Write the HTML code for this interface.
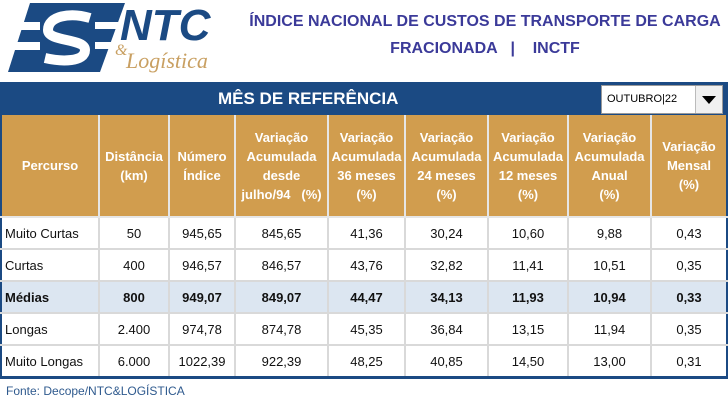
<!DOCTYPE html>
<html><head><meta charset="utf-8"><style>
body{margin:0;width:728px;height:400px;background:#fff;position:relative;overflow:hidden;font-family:"Liberation Sans",sans-serif}
.t{position:absolute;left:230px;width:510px;text-align:center;color:#3b3a99;font-weight:bold;font-size:16px}
#bar{position:absolute;left:0;top:82px;width:728px;height:33px;background:#1b4a83}
#bar span{position:absolute;left:218px;top:7px;color:#fff;font-weight:bold;font-size:17px}
#dd{position:absolute;left:601px;top:85px;width:120px;height:27px;background:#fff;border:1px solid #999}
#dd span{position:absolute;left:5px;top:7px;font-size:11px;color:#000}
#dd i{position:absolute;right:0;top:0;width:26px;height:27px;background:#f0f0f0;border-left:1px solid #bbb}
#dd i:after{content:"";position:absolute;left:6px;top:10px;border-left:7px solid transparent;border-right:7px solid transparent;border-top:8px solid #000}
table{position:absolute;left:0;top:115px;border-collapse:collapse;border-left:2px solid #1b4a83;border-right:2px solid #1b4a83;border-bottom:3px solid #1b4a83}
td,th{border:2px solid #d9d9d9;padding:0;font-size:13px;text-align:center}
th{background:#d19d4e;color:#fff;height:101px;line-height:19px;border-color:#e6e6e6;border-top:none}
td{height:30px;color:#111}
td:first-child,th:first-child{border-left:none}
td:last-child,th:last-child{border-right:none}
td:first-child{text-align:left;padding-left:3px}
tr.m td{background:#dce6f1;font-weight:bold}
.src{position:absolute;left:6px;top:384px;font-size:12px;color:#2f5a8e}
</style></head><body>
<svg style="position:absolute;left:0;top:0" width="230" height="80">
<polygon points="30,3 125,3 100,72 8,72" fill="#1b4a83"/>
<rect x="0" y="22" width="40" height="8" fill="#fff"/><rect x="0" y="42" width="40" height="8" fill="#fff"/>
<rect x="95" y="22" width="30" height="7" fill="#fff"/><rect x="95" y="42" width="30" height="7" fill="#fff"/>
<path d="M90,18 C70,12 48,16 48,30 C48,42 85,38 85,50 C85,62 62,62 45,58" stroke="#fff" stroke-width="10" fill="none"/>
<text x="120" y="40" font-family="Liberation Sans" font-weight="bold" font-style="italic" font-size="44" fill="#1b4a83">NTC</text>
<text x="115" y="55" font-family="Liberation Serif" font-style="italic" font-size="16" fill="#c9a062">&amp;</text>
<text x="126" y="68" font-family="Liberation Serif" font-style="italic" font-size="22" fill="#c9a062">Logística</text>
</svg>
<div class="t" style="top:13px">ÍNDICE NACIONAL DE CUSTOS DE TRANSPORTE DE CARGA</div>
<div class="t" style="top:40px">FRACIONADA &nbsp;&nbsp;| &nbsp;&nbsp;&nbsp;INCTF</div>
<div id="bar"><span>MÊS DE REFERÊNCIA</span></div>
<div id="dd"><span>OUTUBRO|22</span><i></i></div>
<table>
<tr><th style="width:96px">Percurso</th><th style="width:68px">Distância<br>(km)</th><th style="width:64px">Número<br>Índice</th><th style="width:91px">Variação<br>Acumulada<br>desde<br>julho/94 &nbsp;&nbsp;(%)</th><th style="width:75px">Variação<br>Acumulada<br>36 meses<br>(%)</th><th style="width:81px">Variação<br>Acumulada<br>24 meses<br>(%)</th><th style="width:78px">Variação<br>Acumulada<br>12 meses<br>(%)</th><th style="width:81px">Variação<br>Acumulada<br>Anual<br>(%)</th><th style="width:74px">Variação<br>Mensal<br>(%)</th></tr>
<tr><td>Muito Curtas</td><td>50</td><td>945,65</td><td>845,65</td><td>41,36</td><td>30,24</td><td>10,60</td><td>9,88</td><td>0,43</td></tr>
<tr><td>Curtas</td><td>400</td><td>946,57</td><td>846,57</td><td>43,76</td><td>32,82</td><td>11,41</td><td>10,51</td><td>0,35</td></tr>
<tr class="m"><td>Médias</td><td>800</td><td>949,07</td><td>849,07</td><td>44,47</td><td>34,13</td><td>11,93</td><td>10,94</td><td>0,33</td></tr>
<tr><td>Longas</td><td>2.400</td><td>974,78</td><td>874,78</td><td>45,35</td><td>36,84</td><td>13,15</td><td>11,94</td><td>0,35</td></tr>
<tr><td>Muito Longas</td><td>6.000</td><td>1022,39</td><td>922,39</td><td>48,25</td><td>40,85</td><td>14,50</td><td>13,00</td><td>0,31</td></tr>
</table>
<div class="src">Fonte: Decope/NTC&amp;LOGÍSTICA</div>
</body></html>
